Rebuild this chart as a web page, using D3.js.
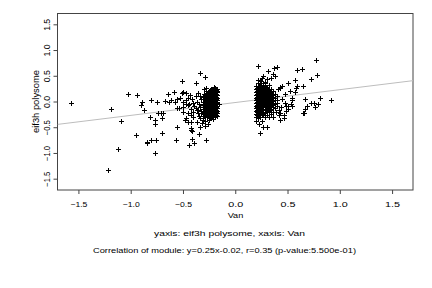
<!DOCTYPE html>
<html>
<head>
<meta charset="utf-8">
<script src="https://cdn.jsdelivr.net/npm/d3@7"></script>
<style>
  body { margin: 0; background: #fff; }
  svg { font-family: "Liberation Sans", Arial, Helvetica, sans-serif; }
</style>
</head>
<body>
<svg width="432" height="288"></svg>
<script>
// tick labels
const xTicks = [-1.5, -1.0, -0.5, 0.0, 0.5, 1.0, 1.5];
const yTicks = [-1.5, -1.0, -0.5, 0.0, 0.5, 1.0, 1.5];

// fitted line y = slope * x + intercept
const slope = 0.25;
const intercept = -0.02;

// sparse points on the left (Van < -0.45)
const leftSparse = [
  [-1.57, -0.03], [-1.22, -1.34], [-1.19, -0.15], [-1.12, -0.93], [-1.09, -0.38],
  [-1.03, 0.14], [-0.95, -0.65], [-0.94, 0.13], [-0.89, 0.0], [-0.90, -0.07],
  [-0.87, -0.17], [-0.845, -0.80], [-0.81, -0.75], [-0.81, 0.03], [-0.82, -0.30],
  [-0.84, -0.78], [-0.77, -1.01], [-0.77, -0.43], [-0.77, -0.35], [-0.75, 0.0],
  [-0.74, -0.22], [-0.71, -0.22], [-0.69, -0.22], [-0.70, -0.61], [-0.70, -0.33],
  [-0.76, -0.75], [-0.67, 0.01], [-0.64, 0.15], [-0.63, -0.01], [-0.61, 0.03],
  [-0.59, 0.19], [-0.58, -0.01], [-0.56, 0.04], [-0.56, -0.49], [-0.57, -0.75],
  [-0.56, -0.13], [-0.53, 0.06], [-0.51, 0.16], [-0.51, 0.40], [-0.50, 0.19],
  [-0.50, 0.0], [-0.50, -0.20], [-0.54, -0.12], [-0.50, -0.11], [-0.47, 0.16],
  [-0.47, -0.04], [-0.45, -0.07], [-0.45, -0.23], [-0.48, -0.36], [-0.45, -0.39],
  [-0.47, -0.33]
];

// medium density points between the far left and the left cluster
const leftMid = [
  [-0.43, 0.13], [-0.42, -0.26], [-0.42, -0.39], [-0.40, -0.20], [-0.37, -0.17],
  [-0.36, -0.23], [-0.37, -0.39], [-0.34, -0.33], [-0.31, -0.36], [-0.42, -0.52],
  [-0.41, -0.57], [-0.41, -0.73], [-0.39, -0.81], [-0.44, -0.85], [-0.35, -0.63],
  [-0.275, -0.74], [-0.42, -0.56], [-0.34, -0.49], [-0.29, -0.48], [-0.34, 0.55],
  [-0.29, 0.48], [-0.38, 0.35], [-0.43, 0.12], [-0.41, 0.05], [-0.40, -0.02],
  [-0.39, -0.08], [-0.42, -0.15], [-0.38, 0.10], [-0.36, 0.16], [-0.34, 0.10],
  [-0.34, -0.10], [-0.36, -0.16], [-0.33, -0.22], [-0.40, -0.30], [-0.44, -0.05],
  [-0.45, 0.07], [-0.47, 0.02], [-0.33, 0.05], [-0.33, -0.18], [-0.35, -0.05],
  [-0.35, -0.28], [-0.37, 0.0], [-0.38, -0.12], [-0.32, -0.42], [-0.26, -0.43],
  [-0.30, 0.25], [-0.275, 0.26]
];

// dense cluster left of zero
const leftCore = [
  [-0.17, 0.24], [-0.17, 0.18], [-0.17, 0.12], [-0.17, 0.07], [-0.17, 0.02], [-0.17, -0.03],
  [-0.17, -0.08], [-0.17, -0.13], [-0.17, -0.18], [-0.17, -0.23], [-0.17, -0.28],
  [-0.19, 0.26], [-0.19, 0.20], [-0.19, 0.15], [-0.19, 0.10], [-0.19, 0.05], [-0.19, 0.00],
  [-0.19, -0.05], [-0.19, -0.10], [-0.19, -0.15], [-0.19, -0.20], [-0.19, -0.25], [-0.19, -0.31],
  [-0.21, 0.22], [-0.21, 0.16], [-0.21, 0.11], [-0.21, 0.06], [-0.21, 0.01], [-0.21, -0.04],
  [-0.21, -0.09], [-0.21, -0.14], [-0.21, -0.19], [-0.21, -0.24], [-0.21, -0.29], [-0.21, -0.34],
  [-0.23, 0.25], [-0.23, 0.19], [-0.23, 0.13], [-0.23, 0.08], [-0.23, 0.03], [-0.23, -0.02],
  [-0.23, -0.07], [-0.23, -0.12], [-0.23, -0.17], [-0.23, -0.22], [-0.23, -0.27], [-0.23, -0.33],
  [-0.25, 0.21], [-0.25, 0.14], [-0.25, 0.09], [-0.25, 0.04], [-0.25, -0.01], [-0.25, -0.06],
  [-0.25, -0.11], [-0.25, -0.16], [-0.25, -0.21], [-0.25, -0.26], [-0.25, -0.36],
  [-0.27, 0.17], [-0.27, 0.10], [-0.27, 0.05], [-0.27, -0.03], [-0.27, -0.08], [-0.27, -0.13],
  [-0.27, -0.18], [-0.27, -0.24], [-0.27, -0.30],
  [-0.29, 0.12], [-0.29, 0.06], [-0.29, -0.02], [-0.29, -0.10], [-0.29, -0.15], [-0.29, -0.21],
  [-0.29, -0.27], [-0.29, -0.38],
  [-0.31, 0.08], [-0.31, 0.0], [-0.31, -0.07], [-0.31, -0.14], [-0.31, -0.25], [-0.31, -0.33],
  [-0.18, 0.09], [-0.20, -0.02], [-0.22, 0.14], [-0.24, -0.09], [-0.26, 0.0], [-0.28, 0.20],
  [-0.20, 0.28], [-0.16, -0.05], [-0.18, -0.20], [-0.22, -0.30], [-0.17, 0.20],
  [-0.18, 0.22], [-0.18, 0.15], [-0.18, 0.05], [-0.18, -0.01], [-0.18, -0.11], [-0.18, -0.16],
  [-0.18, -0.26],
  [-0.20, 0.19], [-0.20, 0.13], [-0.20, 0.08], [-0.20, 0.03], [-0.20, -0.07], [-0.20, -0.12],
  [-0.20, -0.17], [-0.20, -0.22], [-0.20, -0.27],
  [-0.22, 0.24], [-0.22, 0.19], [-0.22, 0.09], [-0.22, 0.04], [-0.22, -0.01], [-0.22, -0.06],
  [-0.22, -0.11], [-0.22, -0.16], [-0.22, -0.21], [-0.22, -0.26],
  [-0.24, 0.23], [-0.24, 0.16], [-0.24, 0.11], [-0.24, 0.06], [-0.24, 0.01], [-0.24, -0.04],
  [-0.24, -0.14], [-0.24, -0.19], [-0.24, -0.24], [-0.24, -0.30],
  [-0.26, 0.19], [-0.26, 0.12], [-0.26, 0.07], [-0.26, 0.03], [-0.26, -0.04], [-0.26, -0.09],
  [-0.26, -0.14], [-0.26, -0.19], [-0.26, -0.28],
  [-0.28, 0.14], [-0.28, 0.08], [-0.28, 0.02], [-0.28, -0.05], [-0.28, -0.12], [-0.28, -0.18],
  [-0.28, -0.26],
  [-0.30, 0.15], [-0.30, 0.04], [-0.30, -0.04], [-0.30, -0.11], [-0.30, -0.20], [-0.30, -0.29]
];

// dense cluster right of zero
const rightCore = [
  [0.20, 0.30], [0.20, 0.24], [0.20, 0.18], [0.20, 0.12], [0.20, 0.07], [0.20, 0.02],
  [0.20, -0.03], [0.20, -0.08], [0.20, -0.13], [0.20, -0.18], [0.20, -0.24], [0.20, -0.30],
  [0.22, 0.35], [0.22, 0.27], [0.22, 0.21], [0.22, 0.15], [0.22, 0.10], [0.22, 0.05], [0.22, 0.00],
  [0.22, -0.05], [0.22, -0.10], [0.22, -0.16], [0.22, -0.21], [0.22, -0.27], [0.22, -0.33],
  [0.24, 0.40], [0.24, 0.32], [0.24, 0.25], [0.24, 0.19], [0.24, 0.13], [0.24, 0.08], [0.24, 0.03],
  [0.24, -0.02], [0.24, -0.07], [0.24, -0.12], [0.24, -0.18], [0.24, -0.24], [0.24, -0.30],
  [0.26, 0.46], [0.26, 0.29], [0.26, 0.22], [0.26, 0.16], [0.26, 0.11], [0.26, 0.06], [0.26, 0.01],
  [0.26, -0.04], [0.26, -0.09], [0.26, -0.14], [0.26, -0.20], [0.26, -0.27],
  [0.28, 0.38], [0.28, 0.31], [0.28, 0.24], [0.28, 0.18], [0.28, 0.12], [0.28, 0.07], [0.28, 0.02],
  [0.28, -0.03], [0.28, -0.08], [0.28, -0.14], [0.28, -0.22], [0.28, -0.30],
  [0.30, 0.27], [0.30, 0.20], [0.30, 0.13], [0.30, 0.08], [0.30, 0.03], [0.30, -0.02],
  [0.30, -0.07], [0.30, -0.12], [0.30, -0.19], [0.30, -0.26],
  [0.32, 0.33], [0.32, 0.22], [0.32, 0.15], [0.32, 0.09], [0.32, 0.04], [0.32, -0.01],
  [0.32, -0.06], [0.32, -0.12], [0.32, -0.20],
  [0.34, 0.25], [0.34, 0.17], [0.34, 0.10], [0.34, 0.05], [0.34, 0.00], [0.34, -0.05],
  [0.34, -0.10], [0.34, -0.17], [0.34, -0.24],
  [0.36, 0.20], [0.36, 0.12], [0.36, 0.06], [0.36, 0.01], [0.36, -0.04], [0.36, -0.10], [0.36, -0.20],
  [0.38, 0.14], [0.38, 0.07], [0.38, 0.02], [0.38, -0.05], [0.38, -0.13],
  [0.40, 0.10], [0.40, 0.03], [0.40, -0.03], [0.40, -0.08],
  [0.21, 0.27], [0.21, 0.21], [0.21, 0.15], [0.21, 0.09], [0.21, 0.04], [0.21, -0.01],
  [0.21, -0.06], [0.21, -0.11], [0.21, -0.16], [0.21, -0.21], [0.21, -0.27],
  [0.23, 0.30], [0.23, 0.23], [0.23, 0.17], [0.23, 0.12], [0.23, 0.06], [0.23, 0.01],
  [0.23, -0.04], [0.23, -0.09], [0.23, -0.14], [0.23, -0.20], [0.23, -0.26],
  [0.25, 0.35], [0.25, 0.27], [0.25, 0.21], [0.25, 0.15], [0.25, 0.10], [0.25, 0.05],
  [0.25, 0.00], [0.25, -0.05], [0.25, -0.10], [0.25, -0.16], [0.25, -0.22],
  [0.27, 0.33], [0.27, 0.26], [0.27, 0.20], [0.27, 0.14], [0.27, 0.09], [0.27, 0.04],
  [0.27, -0.01], [0.27, -0.06], [0.27, -0.11], [0.27, -0.17], [0.27, -0.24],
  [0.29, 0.29], [0.29, 0.22], [0.29, 0.15], [0.29, 0.10], [0.29, 0.05], [0.29, 0.00],
  [0.29, -0.05], [0.29, -0.10], [0.29, -0.16],
  [0.31, 0.24], [0.31, 0.17], [0.31, 0.11], [0.31, 0.06], [0.31, 0.01], [0.31, -0.04],
  [0.31, -0.09], [0.31, -0.15],
  [0.33, 0.19], [0.33, 0.12], [0.33, 0.07], [0.33, 0.02], [0.33, -0.03], [0.33, -0.08],
  [0.33, -0.14],
  [0.35, 0.14], [0.35, 0.08], [0.35, 0.03], [0.35, -0.02], [0.35, -0.07]
];

// scattered points around the right cluster and further right
const rightSparse = [
  [0.22, 0.69], [0.31, 0.60], [0.37, 0.65], [0.40, 0.67], [0.38, 0.50], [0.36, 0.54],
  [0.34, 0.45], [0.27, 0.49], [0.30, 0.43], [0.25, 0.39], [0.28, 0.36], [0.22, 0.42],
  [0.45, 0.30], [0.43, 0.28], [0.41, 0.24], [0.42, -0.26], [0.43, -0.23], [0.47, -0.33],
  [0.32, -0.31], [0.23, -0.44], [0.27, -0.49], [0.30, -0.49], [0.24, -0.62], [0.48, -0.02],
  [0.49, -0.09], [0.44, -0.10], [0.45, 0.05], [0.42, -0.16], [0.39, -0.20], [0.36, -0.30],
  [0.20, -0.38], [0.26, -0.38], [0.50, 0.35], [0.43, 0.26], [0.50, -0.08], [0.49, -0.19],
  [0.47, -0.26], [0.43, -0.36],
  [0.77, 0.81], [0.59, 0.61], [0.64, 0.63], [0.78, 0.52], [0.72, 0.44], [0.57, 0.42],
  [0.59, 0.31], [0.58, 0.27], [0.65, 0.30], [0.57, 0.18], [0.54, 0.07], [0.54, 0.03],
  [0.54, -0.08], [0.53, -0.04], [0.67, 0.05], [0.81, 0.07], [0.92, 0.03], [0.72, -0.02],
  [0.75, -0.02], [0.79, -0.04], [0.69, -0.08], [0.76, -0.11], [0.67, -0.15], [0.65, -0.23],
  [0.66, -0.22], [0.52, 0.20], [0.48, 0.15], [0.50, -0.15]
];

const points = leftSparse.concat(leftMid, leftCore, rightCore, rightSparse);

const svg = d3.select("svg");

const x = d3.scaleLinear().domain([-1.7, 1.7]).range([57.5, 413]);
const y = d3.scaleLinear().domain([-1.72, 1.72]).range([190, 13]);

// frame
svg.append("rect")
    .attr("x", 57.5).attr("y", 13.5)
    .attr("width", 355.5).attr("height", 176.5)
    .attr("fill", "none")
    .attr("stroke", "#444")
    .attr("stroke-width", 1);

// regression line, clipped to the frame
svg.append("clipPath").attr("id", "plotclip")
  .append("rect").attr("x", 57.5).attr("y", 13.5).attr("width", 355.5).attr("height", 176.5);

svg.append("line")
    .attr("clip-path", "url(#plotclip)")
    .attr("x1", x(-1.7)).attr("y1", y(slope * -1.7 + intercept))
    .attr("x2", x(1.7)).attr("y2", y(slope * 1.7 + intercept))
    .attr("stroke", "#bdbdbd")
    .attr("stroke-width", 1);

// points as crisp plus signs
svg.append("g")
  .selectAll("path")
  .data(points)
  .enter()
  .append("path")
    .attr("d", d => {
      const cx = Math.round(x(d[0])) + 0.5, cy = Math.round(y(d[1])) + 0.5;
      return `M${cx - 2.5},${cy}h5M${cx},${cy - 2.5}v5`;
    })
    .attr("stroke", "#000")
    .attr("stroke-width", 1)
    .attr("fill", "none");

// axes
const fmt = d3.format(".1f");

const xAxis = svg.append("g")
    .attr("transform", "translate(0,190)")
    .call(d3.axisBottom(x).tickValues(xTicks).tickFormat(fmt).tickSize(4).tickSizeOuter(0));

const yAxis = svg.append("g")
    .attr("transform", "translate(57.5,0)")
    .call(d3.axisLeft(y).tickValues(yTicks).tickFormat(fmt).tickSize(4).tickSizeOuter(0));

[xAxis, yAxis].forEach(g => {
  g.select(".domain").remove();
  g.selectAll(".tick line").attr("stroke", "#444");
  g.selectAll("text").attr("font-size", "7.5px").attr("fill", "#000")
    .attr("font-family", "'Liberation Sans', Arial, sans-serif")
    .attr("lengthAdjust", "spacingAndGlyphs");
});

xAxis.selectAll(".tick text")
    .attr("y", 16.5).attr("dy", null)
    .attr("textLength", d => d < 0 ? 17 : 15);

yAxis.selectAll(".tick text")
    .attr("x", 0).attr("dy", null)
    .attr("text-anchor", "middle")
    .attr("font-size", "8.5px")
    .attr("textLength", d => d < 0 ? 15 : 12)
    .attr("transform", "translate(-7.5,0) rotate(-90)");

// axis titles and captions
function label(txt, px, py, w, size) {
  return svg.append("text")
    .attr("x", px).attr("y", py)
    .attr("text-anchor", "middle")
    .attr("font-size", size + "px")
    .attr("textLength", w)
    .attr("lengthAdjust", "spacingAndGlyphs")
    .text(txt);
}

label("Van", 235.5, 218, 15.6, 7.5);
label("yaxis: eif3h polysome, xaxis: Van", 229.5, 236, 151, 7.5);
label("Correlation of module: y=0.25x-0.02, r=0.35 (p-value:5.500e-01)", 224.5, 252.5, 263, 7.5);

label("eif3h polysome", 0, 0, 63, 8.5)
    .attr("transform", "translate(39,101.5) rotate(-90)");
</script>
</body>
</html>
